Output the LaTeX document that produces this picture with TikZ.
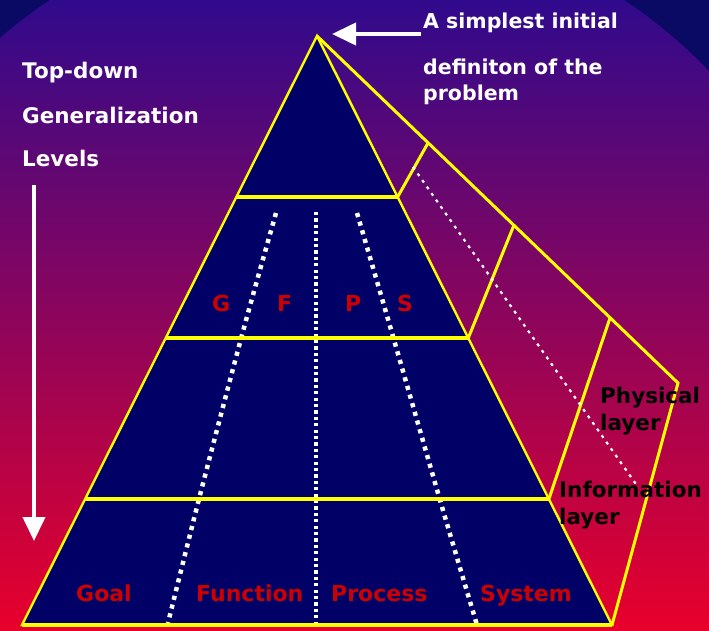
\documentclass[tikz,border=0pt]{standalone}
\usepackage{fontspec}
\setmainfont{DejaVu Sans}
\usetikzlibrary{arrows.meta}
\definecolor{bgnavy}{HTML}{0A0A64}
\definecolor{pyrnavy}{HTML}{000066}
\definecolor{gtop}{HTML}{300A8C}
\definecolor{gmid}{HTML}{86037E}
\definecolor{gbot}{HTML}{E8002C}
\definecolor{lblred}{HTML}{CC0000}
\definecolor{ylw}{HTML}{FFFF00}
\tikzset{
  edge/.style={draw=ylw, line width=2.4pt, line join=miter},
  sideline/.style={draw=ylw, line width=3pt},
  levelline/.style={draw=ylw, line width=3.2pt},
  dotsmall/.style={draw=white, line width=3.4pt, dash pattern=on 3.2pt off 3.2pt},
  dotbig/.style={draw=white, line width=4.5pt, dash pattern=on 4.2pt off 4.8pt},
  dotside/.style={draw=white, line width=2.2pt, dash pattern=on 3pt off 5pt},
  whitearrow/.style={draw=white, line width=4pt, -{Triangle[length=24pt,width=22pt]}},
  basetxt/.style={inner sep=0pt, anchor=base west, font=\fontsize{21.5}{26}\selectfont\bfseries},
  wtxt/.style={basetxt, text=white},
  wtxtr/.style={basetxt, text=white, font=\fontsize{20.5}{26}\selectfont\bfseries},
  rtxt/.style={basetxt, text=lblred, font=\fontsize{22}{26}\selectfont\bfseries},
  ktxt/.style={basetxt, text=black},
}
\begin{document}
\begin{tikzpicture}[x=1pt,y=-1pt]
\useasboundingbox (0,0) rectangle (709,630);
% background
\fill[bgnavy] (0,0) rectangle (709,630);
\begin{scope}
  \clip (337,430) circle [radius=517pt];
  \shade[top color=gtop, middle color=gmid, bottom color=gbot] (0,0) rectangle (709,630);
\end{scope}
% key points
\coordinate (A) at (317,36);
\coordinate (BL) at (22,625);
\coordinate (BR) at (612,625);
\coordinate (L1L) at (236.4,197);  \coordinate (L1R) at (397.6,197);
\coordinate (L2L) at (165.7,338);  \coordinate (L2R) at (468.3,338);
\coordinate (L3L) at (85.1,499);   \coordinate (L3R) at (548.9,499);
\coordinate (O1) at (428,143);
\coordinate (O2) at (514,225);
\coordinate (O3) at (610,318);
\coordinate (O4) at (678,383);
% pyramid body
\fill[pyrnavy] (A) -- (BL) -- (BR) -- cycle;
% dotted partitions
\draw[dotsmall] (316,212) -- (316,625);
\draw[dotbig] plot[smooth] coordinates {(276,213) (242,335) (199,499) (168,623)};
\draw[dotbig] plot[smooth] coordinates {(357,213) (392,333) (440,500) (477,625)};
% level lines
\draw[levelline] (L1L) -- (L1R);
\draw[levelline] (L2L) -- (L2R);
\draw[levelline] (L3L) -- (L3R);
\draw[levelline] (BL) -- (BR);
% pyramid outline
\draw[edge] (A) -- (BL) -- (BR) -- cycle;
% side face
\draw[sideline] (A) -- (O4) -- (BR);
\draw[sideline] (L1R) -- (O1);
\draw[sideline] (L2R) -- (O2);
\draw[sideline] (L3R) -- (O3);
\draw[dotside] (413,167) -- (638,487);
% texts
\node[wtxtr] (t1) at (423,28) {A simplest initial};
\node[wtxtr] (t2) at (423,74) {definiton of the};
\node[wtxtr] (t3) at (423,100) {problem};
\node[wtxt] (l1) at (22,78) {Top-down};
\node[wtxt] (l2) at (22,123) {Generalization};
\node[wtxt] (l3) at (22,166) {Levels};
\node[rtxt] (g1) at (212,311) {G};
\node[rtxt] (f1) at (277,311) {F};
\node[rtxt] (p1) at (345,311) {P};
\node[rtxt] (s1) at (397,311) {S};
\node[rtxt] (goal) at (76,601) {Goal};
\node[rtxt] (func) at (196,601) {Function};
\node[rtxt] (proc) at (331,601) {Process};
\node[rtxt] (syst) at (480,601) {System};
\node[ktxt] (ph1) at (600,403) {Physical};
\node[ktxt] (ph2) at (600,430) {layer};
\node[ktxt] (in1) at (559,497) {Information};
\node[ktxt] (in2) at (559,524) {layer};
% arrows
\coordinate (tipA) at (332,34);
\draw[whitearrow] ([xshift=-2pt]t1.west |- tipA) -- (tipA);
\coordinate (levStart) at (34,185);
\coordinate (levTip) at (34,541);
\draw[whitearrow] (levStart) -- (levTip);
\end{tikzpicture}
\end{document}
